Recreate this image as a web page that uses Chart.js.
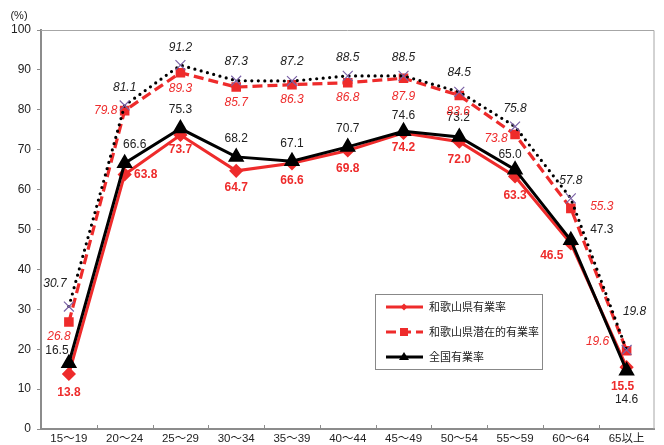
<!DOCTYPE html>
<html lang="ja">
<head>
<meta charset="utf-8">
<title>年齢階級別有業率</title>
<script src="https://cdn.jsdelivr.net/npm/chart.js@4.4.0/dist/chart.umd.min.js"></script>
<style>
  html, body { margin: 0; padding: 0; background: #fff; }
  #wrap { width: 664px; height: 445px; position: relative; }
</style>
</head>
<body>
<div id="wrap"><canvas id="chart"></canvas></div>
<script>
// 年齢階級
const ageGroups = ['15～19', '20～24', '25～29', '30～34', '35～39', '40～44', '45～49', '50～54', '55～59', '60～64', '65以上'];

// 和歌山県有業率
const wakayamaRate = [13.8, 63.8, 73.7, 64.7, 66.6, 69.8, 74.2, 72.0, 63.3, 46.5, 15.5];
// 和歌山県潜在的有業率
const wakayamaPotential = [26.8, 79.8, 89.3, 85.7, 86.3, 86.8, 87.9, 83.6, 73.8, 55.3, 19.6];
// 全国有業率
const nationalRate = [16.5, 66.6, 75.3, 68.2, 67.1, 70.7, 74.6, 73.2, 65.0, 47.3, 14.6];
// 全国潜在的有業率（凡例なし）
const nationalPotential = [30.7, 81.1, 91.2, 87.3, 87.2, 88.5, 88.5, 84.5, 75.8, 57.8, 19.8];

const yTicks = [0, 10, 20, 30, 40, 50, 60, 70, 80, 90, 100];

// 凡例の並び
const legendKeys = ['wakayamaRate', 'wakayamaPotential', 'nationalRate'];

const RED = '#ee2b2b';
const FONT = "'Liberation Sans', Arial, 'Noto Sans CJK JP', sans-serif";

// ラベル位置（点からのずれ）
const labelOffsets = {
  wakayamaRate: [[0, 19], [21, 0], [0, 15], [0, 17], [0, 17], [0, 18], [0, 15], [0, 18], [0, 19], [-19, 12], [-4, 20]],
  wakayamaPotential: [[-10, 15], [-19, 0], [0, 16], [0, 16], [0, 15], [0, 15], [0, 18], [-1, 16], [-19, 4], [31, -2], [-29, -9]],
  nationalRate: [[-12, -12], [10, -19], [0, -19], [0, -18], [0, -18], [0, -18], [0, -16], [-1, -19], [-5, -15], [31, -11], [0, 29]],
  nationalPotential: [[-14, -23], [0, -18], [0, -17], [0, -19], [0, -19], [0, -18], [0, -18], [0, -19], [0, -18], [0, -18], [8, -38]]
};

const labelStyle = {
  wakayamaRate: { color: RED, font: 'bold 12px ' + FONT },
  wakayamaPotential: { color: RED, font: 'italic 12px ' + FONT },
  nationalRate: { color: '#222', font: '12px ' + FONT },
  nationalPotential: { color: '#222', font: 'italic 12px ' + FONT }
};

// 値ラベル
const valueLabels = {
  id: 'valueLabels',
  afterDatasetsDraw(chart) {
    const ctx = chart.ctx;
    ctx.save();
    ctx.textAlign = 'center';
    ctx.textBaseline = 'middle';
    chart.data.datasets.forEach((ds, i) => {
      const meta = chart.getDatasetMeta(i);
      const st = labelStyle[ds.key];
      const off = labelOffsets[ds.key];
      ctx.fillStyle = st.color;
      ctx.font = st.font;
      meta.data.forEach((pt, j) => {
        ctx.fillText(ds.data[j].toFixed(1), pt.x + off[j][0], pt.y + off[j][1]);
      });
    });
    ctx.restore();
  }
};

// 枠線・目盛り・単位
const frame = {
  id: 'frame',
  beforeDatasetsDraw(chart) {
    const { ctx, chartArea: a } = chart;
    const x = chart.scales.x;
    ctx.save();
    ctx.strokeStyle = '#a6a6a6';
    ctx.lineWidth = 1;
    ctx.beginPath();
    ctx.moveTo(a.left, a.top + 0.5);
    ctx.lineTo(a.right - 0.5, a.top + 0.5);
    ctx.lineTo(a.right - 0.5, a.bottom);
    ctx.stroke();
    ctx.strokeStyle = '#8c8c8c';
    ctx.beginPath();
    for (let i = 1; i < ageGroups.length; i++) {
      const px = Math.round((x.getPixelForValue(i - 1) + x.getPixelForValue(i)) / 2) + 0.5;
      ctx.moveTo(px, a.bottom);
      ctx.lineTo(px, a.bottom - 4);
    }
    ctx.stroke();
    ctx.fillStyle = '#222';
    ctx.font = '11px ' + FONT;
    ctx.textAlign = 'center';
    ctx.textBaseline = 'middle';
    ctx.fillText('(%)', 19, 16);
    ctx.restore();
  }
};

// 凡例（グラフ内）
const legendBox = {
  id: 'legendBox',
  afterDraw(chart) {
    const ctx = chart.ctx;
    const bx = 375, by = 294, bw = 167, bh = 75;
    ctx.save();
    ctx.fillStyle = '#fff';
    ctx.fillRect(bx, by, bw, bh);
    ctx.strokeStyle = '#888';
    ctx.lineWidth = 1;
    ctx.strokeRect(bx + 0.5, by + 0.5, bw, bh);
    legendKeys.forEach((key, i) => {
      const ds = chart.data.datasets.find(d => d.key === key);
      const y = by + 13 + i * 25;
      ctx.strokeStyle = ds.borderColor;
      ctx.lineWidth = ds.borderWidth;
      ctx.setLineDash(ds.borderDash || []);
      ctx.beginPath();
      ctx.moveTo(386, y);
      ctx.lineTo(423, y);
      ctx.stroke();
      ctx.setLineDash([]);
      ctx.fillStyle = ds.pointBackgroundColor;
      const mx = 404;
      ctx.beginPath();
      if (ds.pointStyle === 'triangle') {
        ctx.moveTo(mx, y - 5); ctx.lineTo(mx + 5, y + 3); ctx.lineTo(mx - 5, y + 3);
      } else if (ds.pointStyle === 'rect') {
        ctx.rect(mx - 4, y - 4, 8, 8);
      } else {
        ctx.moveTo(mx, y - 3.5); ctx.lineTo(mx + 3.5, y); ctx.lineTo(mx, y + 3.5); ctx.lineTo(mx - 3.5, y);
      }
      ctx.closePath();
      ctx.fill();
      ctx.fillStyle = '#222';
      ctx.font = "11px 'Noto Sans CJK JP', sans-serif";
      ctx.textAlign = 'left';
      ctx.textBaseline = 'middle';
      ctx.fillText(ds.label, 429, y);
    });
    ctx.restore();
  }
};

new Chart(document.getElementById('chart'), {
  type: 'line',
  data: {
    labels: ageGroups,
    datasets: [
      {
        key: 'nationalRate', label: '全国有業率',
        data: nationalRate, borderColor: '#000', borderWidth: 3,
        pointStyle: 'triangle', pointRadius: 6.5, pointBackgroundColor: '#000', pointBorderColor: '#000',
        order: 0
      },
      {
        key: 'wakayamaRate', label: '和歌山県有業率',
        data: wakayamaRate, borderColor: RED, borderWidth: 3,
        pointStyle: 'rectRot', pointRadius: 5, pointBackgroundColor: RED, pointBorderColor: RED,
        order: 1
      },
      {
        key: 'nationalPotential', label: '全国潜在的有業率',
        data: nationalPotential, borderColor: '#000', borderWidth: 3.2,
        borderDash: [0, 6.5], borderCapStyle: 'round',
        pointStyle: 'crossRot', pointRadius: 7, pointBorderWidth: 1.2,
        pointBackgroundColor: '#7b62a6', pointBorderColor: '#7b62a6',
        order: 2
      },
      {
        key: 'wakayamaPotential', label: '和歌山県潜在的有業率',
        data: wakayamaPotential, borderColor: RED, borderWidth: 3.2, borderDash: [10, 5],
        pointStyle: 'rect', pointRadius: 4.5, pointBackgroundColor: RED, pointBorderColor: RED,
        order: 3
      }
    ]
  },
  options: {
    responsive: true,
    maintainAspectRatio: false,
    animation: false,
    events: [],
    layout: { padding: { top: 30, right: 2, left: 0, bottom: 0 } },
    elements: { line: { tension: 0 } },
    plugins: {
      legend: { display: false },
      tooltip: { enabled: false }
    },
    scales: {
      x: {
        offset: true,
        grid: { display: false, drawTicks: false },
        border: { color: '#8c8c8c', width: 2 },
        ticks: { color: '#222', font: { size: 11.5, family: FONT }, padding: 3, maxRotation: 0, autoSkip: false },
        afterFit(s) { s.height = 16; }
      },
      y: {
        min: 0, max: 100,
        afterBuildTicks(s) { s.ticks = yTicks.map(v => ({ value: v })); },
        grid: { drawOnChartArea: false, tickLength: 4, color: '#8c8c8c' },
        border: { color: '#8c8c8c', width: 2 },
        ticks: { color: '#222', font: { size: 12, family: FONT }, padding: 6 },
        afterFit(s) { s.width = 41; }
      }
    }
  },
  plugins: [frame, valueLabels, legendBox]
});
</script>
</body>
</html>
